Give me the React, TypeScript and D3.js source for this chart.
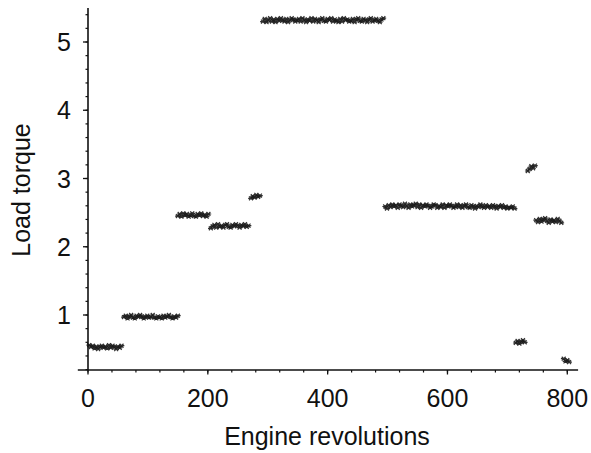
import { useRef, useEffect } from 'react';
import * as d3 from 'd3';

// Each run: first revolution, revolution step, measured load torque values
const runStarts = [2, 60, 150, 205, 272, 292, 496, 714, 734, 748, 794];
const runStep = 3;

const run1 = [0.56, 0.53, 0.55, 0.51, 0.54, 0.50, 0.53, 0.55, 0.52, 0.54, 0.51, 0.56, 0.52, 0.55, 0.53, 0.50, 0.54, 0.52, 0.55];
const run2 = [0.97, 0.99, 0.95, 0.98, 1.00, 0.96, 0.95, 0.99, 0.97, 1.00, 0.98, 0.95, 0.97, 0.99, 0.96, 0.97, 1.00, 0.96, 0.95, 0.98,
  0.97, 0.95, 0.99, 0.96, 0.98, 1.00, 0.97, 0.95, 0.98, 0.96, 0.99];
const run3 = [2.45, 2.48, 2.44, 2.49, 2.46, 2.48, 2.44, 2.46, 2.49, 2.45, 2.44, 2.48, 2.46, 2.49, 2.45, 2.47, 2.44, 2.48];
const run4 = [2.27, 2.30, 2.32, 2.28, 2.33, 2.29, 2.31, 2.28, 2.32, 2.33, 2.29, 2.28, 2.32, 2.30, 2.33, 2.31, 2.28, 2.32, 2.30, 2.33,
  2.29, 2.31];
const run5 = [2.71, 2.74, 2.72, 2.76, 2.73, 2.75];
const run6 = [5.30, 5.34, 5.29, 5.32, 5.35, 5.30, 5.33, 5.29, 5.34, 5.31, 5.35, 5.32, 5.30, 5.34, 5.29, 5.32, 5.35, 5.33, 5.30, 5.32,
  5.34, 5.30, 5.35, 5.32, 5.29, 5.33, 5.31, 5.35, 5.30, 5.34, 5.32, 5.29, 5.33, 5.35, 5.31, 5.30, 5.34, 5.32, 5.35, 5.30,
  5.33, 5.31, 5.29, 5.34, 5.30, 5.35, 5.32, 5.33, 5.30, 5.31, 5.34, 5.29, 5.33, 5.35, 5.31, 5.30, 5.34, 5.32, 5.29, 5.33,
  5.35, 5.30, 5.32, 5.34, 5.31, 5.29, 5.33, 5.35];
const run7 = [2.59, 2.56, 2.61, 2.58, 2.62, 2.59, 2.61, 2.57, 2.62, 2.60, 2.58, 2.63, 2.60, 2.57, 2.62, 2.59, 2.61, 2.63, 2.58, 2.62,
  2.57, 2.61, 2.59, 2.62, 2.60, 2.57, 2.59, 2.62, 2.61, 2.57, 2.60, 2.58, 2.62, 2.57, 2.61, 2.59, 2.62, 2.60, 2.57, 2.59,
  2.62, 2.58, 2.61, 2.57, 2.60, 2.62, 2.58, 2.57, 2.61, 2.59, 2.56, 2.60, 2.58, 2.62, 2.59, 2.57, 2.61, 2.58, 2.60, 2.57,
  2.61, 2.59, 2.56, 2.60, 2.58, 2.61, 2.57, 2.59, 2.56, 2.58, 2.57, 2.59, 2.56];
const run8 = [0.59, 0.62, 0.58, 0.61, 0.63, 0.60];
const run9 = [3.11, 3.14, 3.18, 3.15, 3.19];
const run10 = [2.39, 2.36, 2.41, 2.37, 2.40, 2.42, 2.38, 2.35, 2.40, 2.37, 2.39, 2.36, 2.41, 2.38, 2.35];
const run11 = [0.36, 0.32, 0.34, 0.31];

const runs = [run1, run2, run3, run4, run5, run6, run7, run8, run9, run10, run11];

const xMajor = [0, 200, 400, 600, 800];
const xMinor = d3.range(0, 820, 40);
const yMajor = [1, 2, 3, 4, 5];
const yMinor = d3.range(0.2, 5.5, 0.2);

const font = '"Liberation Sans", Arial, Helvetica, sans-serif';

export default function App() {
  const svgRef = useRef<SVGSVGElement>(null);

  useEffect(() => {
    if (!svgRef.current) return;
    const svg = d3.select(svgRef.current);
    svg.selectAll('*').remove();

    const x = d3.scaleLinear().domain([0, 800]).range([88, 567.3]);
    const y = d3.scaleLinear().domain([1, 5]).range([315, 42]);
    const yOrigin = 0.194;
    const ink = '#111';

    // points, drawn as small asterisks
    const pts: [number, number][] = [];
    runs.forEach((vals, k) => {
      vals.forEach((v, i) => pts.push([runStarts[k] + i * runStep, v]));
    });
    const r = 2.8;
    const d = r * 0.7;
    const g = svg.append('g').attr('stroke', '#1a1a1a').attr('stroke-width', 1.2).attr('stroke-opacity', 0.9);
    pts.forEach(([px, py]) => {
      const cx = x(px), cy = y(py);
      g.append('path')
        .attr('d', `M${cx - r},${cy}L${cx + r},${cy}M${cx - d},${cy - d}L${cx + d},${cy + d}M${cx - d},${cy + d}L${cx + d},${cy - d}`);
    });

    // x axis
    const xa = svg.append('g').attr('transform', `translate(0,${y(yOrigin)})`);
    xa.append('line').attr('x1', x(-17)).attr('x2', x(818)).attr('stroke', ink).attr('stroke-width', 1.6);
    xa.selectAll('.mn').data(xMinor).enter().append('line')
      .attr('x1', v => x(v)).attr('x2', v => x(v)).attr('y1', 0).attr('y2', 2.5)
      .attr('stroke', ink).attr('stroke-width', 1.2);
    xa.selectAll('.mj').data(xMajor).enter().append('line')
      .attr('x1', v => x(v)).attr('x2', v => x(v)).attr('y1', 0).attr('y2', 4.5)
      .attr('stroke', ink).attr('stroke-width', 1.3);
    xa.selectAll('text').data(xMajor).enter().append('text')
      .attr('x', v => x(v)).attr('y', 37)
      .attr('text-anchor', 'middle').attr('font-family', font).attr('font-size', 25).attr('fill', ink)
      .text(v => v);

    // y axis
    const ya = svg.append('g').attr('transform', `translate(${x(0)},0)`);
    ya.append('line').attr('y1', y(yOrigin)).attr('y2', y(5.5)).attr('stroke', ink).attr('stroke-width', 1.6);
    ya.selectAll('.mn').data(yMinor).enter().append('line')
      .attr('y1', v => y(v)).attr('y2', v => y(v)).attr('x1', 0).attr('x2', -2.5)
      .attr('stroke', ink).attr('stroke-width', 1.2);
    ya.selectAll('.mj').data(yMajor).enter().append('line')
      .attr('y1', v => y(v)).attr('y2', v => y(v)).attr('x1', 0).attr('x2', -5)
      .attr('stroke', ink).attr('stroke-width', 1.3);
    ya.selectAll('text').data(yMajor).enter().append('text')
      .attr('x', -17).attr('y', v => y(v)).attr('dy', '0.36em')
      .attr('text-anchor', 'end').attr('font-family', font).attr('font-size', 25).attr('fill', ink)
      .text(v => v);

    // titles
    svg.append('text').attr('x', 327).attr('y', 445)
      .attr('text-anchor', 'middle').attr('font-family', font).attr('font-size', 25).attr('fill', ink)
      .text('Engine revolutions');
    svg.append('text').attr('transform', 'translate(30,190) rotate(-90)')
      .attr('text-anchor', 'middle').attr('font-family', font).attr('font-size', 25).attr('fill', ink)
      .text('Load torque');
  }, []);

  return (
    <svg ref={svgRef} width={591} height={453}
      style={{ position: 'absolute', left: 0, top: 0, background: '#fff' }} />
  );
}
